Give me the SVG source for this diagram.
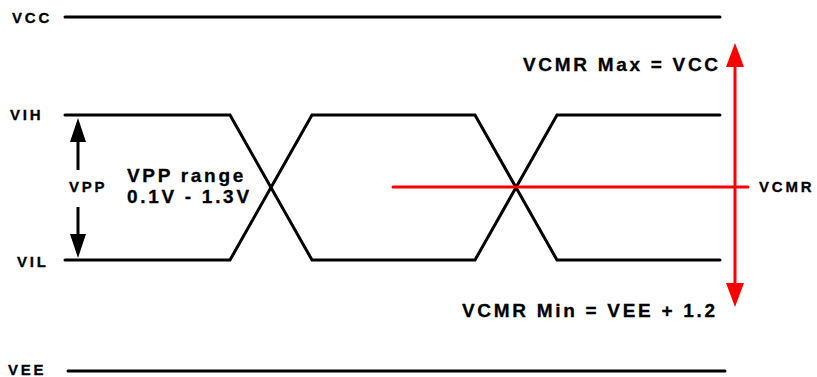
<svg xmlns="http://www.w3.org/2000/svg" width="817" height="377" viewBox="0 0 817 377">
<defs>
<style>
.bg{fill:#fff}
.ln{fill:none;stroke:#000;stroke-width:3;stroke-linecap:round;stroke-linejoin:miter}
.red{fill:none;stroke:#f00;stroke-width:3;stroke-linecap:round}
.sm{font-family:"Liberation Sans",Arial,Helvetica,sans-serif;font-weight:700;font-size:15px;letter-spacing:2.8px;fill:#000;stroke:#000;stroke-width:0.3px}
.lg{font-family:"Liberation Sans",Arial,Helvetica,sans-serif;font-weight:700;font-size:19px;letter-spacing:2.7px;fill:#000;stroke:#000;stroke-width:0.3px}
</style>
<marker id="ab" viewBox="0 0 24 16" refX="0" refY="8" markerWidth="24" markerHeight="16" markerUnits="userSpaceOnUse" orient="auto-start-reverse">
<path d="M0 0 L24 8 L0 16 Z" fill="#000"/>
</marker>
<marker id="ar" viewBox="0 0 24 18" refX="0" refY="9" markerWidth="24" markerHeight="18" markerUnits="userSpaceOnUse" orient="auto-start-reverse">
<path d="M0 0 L24 9 L0 18 Z" fill="#f00"/>
</marker>
</defs>
<rect class="bg" x="0" y="0" width="817" height="377"/>
<g id="rails">
<g id="vcc"><text class="sm" x="12" y="23">VCC</text><line class="ln" x1="65" y1="17" x2="720" y2="17"/></g>
<g id="vee"><text class="sm" x="8" y="375">VEE</text><line class="ln" x1="68" y1="371" x2="725" y2="371"/></g>
</g>
<g id="signal">
<text class="sm" x="10" y="120">VIH</text>
<text class="sm" x="17" y="267">VIL</text>
<polyline class="ln" points="65,115 230,115 312,260 475,260 516,187.5 557,115 720,115"/>
<polyline class="ln" points="65,260 230,260 312,115 475,115 516,187.5 557,260 720,260"/>
</g>
<g id="vpp">
<text class="sm" x="69" y="192">VPP</text>
<text class="lg" x="127" y="182">VPP range</text>
<text class="lg" x="127" y="203">0.1V - 1.3V</text>
</g>
<g id="vcmr">
<text class="sm" x="759" y="192">VCMR</text>
<text class="lg" x="523" y="71">VCMR Max = VCC</text>
<text class="lg" x="462" y="317">VCMR Min = VEE + 1.2</text>
</g>
<g id="connectors">
<line x1="78" y1="142" x2="78" y2="170" stroke="#000" stroke-width="3" marker-start="url(#ab)"/>
<line x1="78" y1="207" x2="78" y2="234" stroke="#000" stroke-width="3" marker-end="url(#ab)"/>
<line class="red" x1="393" y1="187" x2="748" y2="187"/>
<line x1="735" y1="67" x2="735" y2="283" stroke="#f00" stroke-width="3" marker-start="url(#ar)" marker-end="url(#ar)"/>
</g>
</svg>
